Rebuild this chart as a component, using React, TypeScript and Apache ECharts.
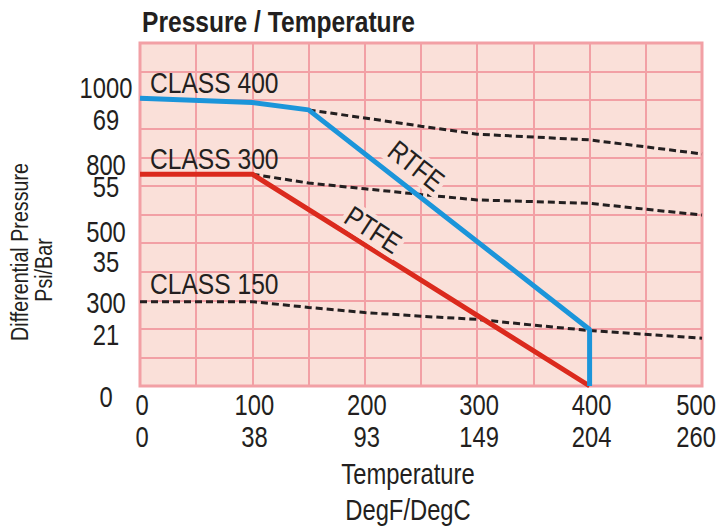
import React, { useEffect, useRef } from 'react';
import * as echarts from 'echarts';

const FONT = "'Liberation Sans', Arial, sans-serif";
const NARROW = 0.82;
const TEXT = '#231F20';
const BG = '#FAE0D9';
const GRIDC = '#F2A0A5';
const BLUE = '#1B95DA';
const RED = '#DB2A1D';

// X axis: temperature in degF with degC equivalents
const tempF = [0, 100, 200, 300, 400, 500];
const tempC = [0, 38, 93, 149, 204, 260];

// Y axis (chart units, 12 grid rows): pressure labels psi / bar
const pressureLabels = ['1000', '69', '800', '55', '500', '35', '300', '21', '0'];
const pressureLabelPos = [10.42, 9.31, 7.73, 6.97, 5.37, 4.35, 2.9, 1.78, -0.4];

// Seat material curves (x = degF, y = chart units)
const rtfeLine = [[0, 10.07], [100, 9.92], [150, 9.66], [400, 1.98], [400, 0]];
const ptfeLine = [[0, 7.41], [100, 7.41], [400, 0]];

// Class rating curves (dashed)
const class400 = [[150, 9.66], [250, 9.09], [300, 8.81], [400, 8.61], [500, 8.12]];
const class300 = [[100, 7.41], [150, 7.1], [200, 6.9], [250, 6.7], [300, 6.51], [400, 6.39], [500, 5.98]];
const class150 = [[0, 2.95], [100, 2.95], [150, 2.75], [200, 2.57], [250, 2.44], [300, 2.33], [350, 2.13], [400, 1.94], [500, 1.67]];

export default function App() {
  const ref = useRef<HTMLDivElement>(null);
  useEffect(() => {
    if (!ref.current) return;
    const chart = echarts.init(ref.current, null, { renderer: 'svg' });
    const txt = (text: string, x: number, y: number, opts: any = {}) => ({
      type: 'text',
      x,
      y,
      z: 10,
      scaleX: NARROW,
      rotation: opts.rotation || 0,
      style: {
        text,
        fill: TEXT,
        font: `${opts.bold ? 'bold ' : ''}${opts.size || 29}px ${FONT}`,
        lineHeight: opts.lh || undefined,
        align: opts.align || 'left',
        verticalAlign: 'middle',
        backgroundColor: opts.bg,
        padding: opts.bg ? [0, 3] : 0,
      },
    });
    const dashed = (data: number[][]) => ({
      type: 'line',
      data,
      symbol: 'none',
      lineStyle: { color: TEXT, width: 3, type: [7, 4] },
      z: 3,
    });
    chart.setOption({
      animation: false,
      grid: {
        left: 140,
        right: 18,
        top: 43,
        bottom: 140,
        outerBoundsMode: 'none',
        containLabel: false,
        show: true,
        backgroundColor: BG,
        borderColor: GRIDC,
        borderWidth: 3,
      },
      xAxis: {
        type: 'value',
        min: 0,
        max: 500,
        interval: 50,
        axisLine: { show: false },
        axisTick: { show: false },
        axisLabel: { show: false },
        splitLine: { show: true, lineStyle: { color: GRIDC, width: 2 } },
      },
      yAxis: {
        type: 'value',
        min: 0,
        max: 12,
        interval: 1,
        axisLine: { show: false },
        axisTick: { show: false },
        axisLabel: { show: false },
        splitLine: { show: true, lineStyle: { color: GRIDC, width: 2 } },
      },
      series: [
        dashed(class400),
        dashed(class300),
        dashed(class150),
        { type: 'line', data: ptfeLine, symbol: 'none', lineStyle: { color: RED, width: 5 }, z: 4 },
        { type: 'line', data: rtfeLine, symbol: 'none', lineStyle: { color: BLUE, width: 5 }, z: 5 },
      ],
    });

    // Axis labels placed through the axes' own scales
    const labels: any[] = [];
    tempF.forEach((f, i) => {
      const px = chart.convertToPixel({ xAxisIndex: 0 }, f) as number;
      const last = i === tempF.length - 1;
      const x = last ? 716 : px + 2;
      const align = last ? 'right' : 'center';
      labels.push(txt(String(f), x, 405.5, { align, lh: 30 }));
      labels.push(txt(String(tempC[i]), x, 437, { align, lh: 30 }));
    });
    pressureLabels.forEach((t, i) => {
      const py = chart.convertToPixel({ yAxisIndex: 0 }, pressureLabelPos[i]) as number;
      labels.push(txt(t, 106, py, { align: 'center', lh: 21 }));
    });

    chart.setOption({
      graphic: [
        ...labels,
        txt('Pressure / Temperature', 142, 22, { bold: true, size: 30 }),
        txt('CLASS 400', 150, 82.5, { size: 30 }),
        txt('CLASS 300', 150, 159, { size: 30 }),
        txt('CLASS 150', 150, 284, { size: 30 }),
        txt('RTFE', 416, 166, { align: 'center', rotation: (-38 * Math.PI) / 180, bg: BG }),
        txt('PTFE', 373, 230, { align: 'center', rotation: (-33 * Math.PI) / 180, bg: BG }),
        txt('Temperature', 408, 474, { align: 'center', size: 29 }),
        txt('DegF/DegC', 408, 510, { align: 'center', size: 29 }),
        txt('Differential Pressure', 20, 252, { align: 'center', size: 24, rotation: Math.PI / 2 }),
        txt('Psi/Bar', 44, 270, { align: 'center', size: 24, rotation: Math.PI / 2 }),
      ],
    });
    return () => chart.dispose();
  }, []);
  return (
    <div
      ref={ref}
      style={{ position: 'fixed', left: 0, top: 0, width: 720, height: 526, background: '#fff' }}
    />
  );
}
